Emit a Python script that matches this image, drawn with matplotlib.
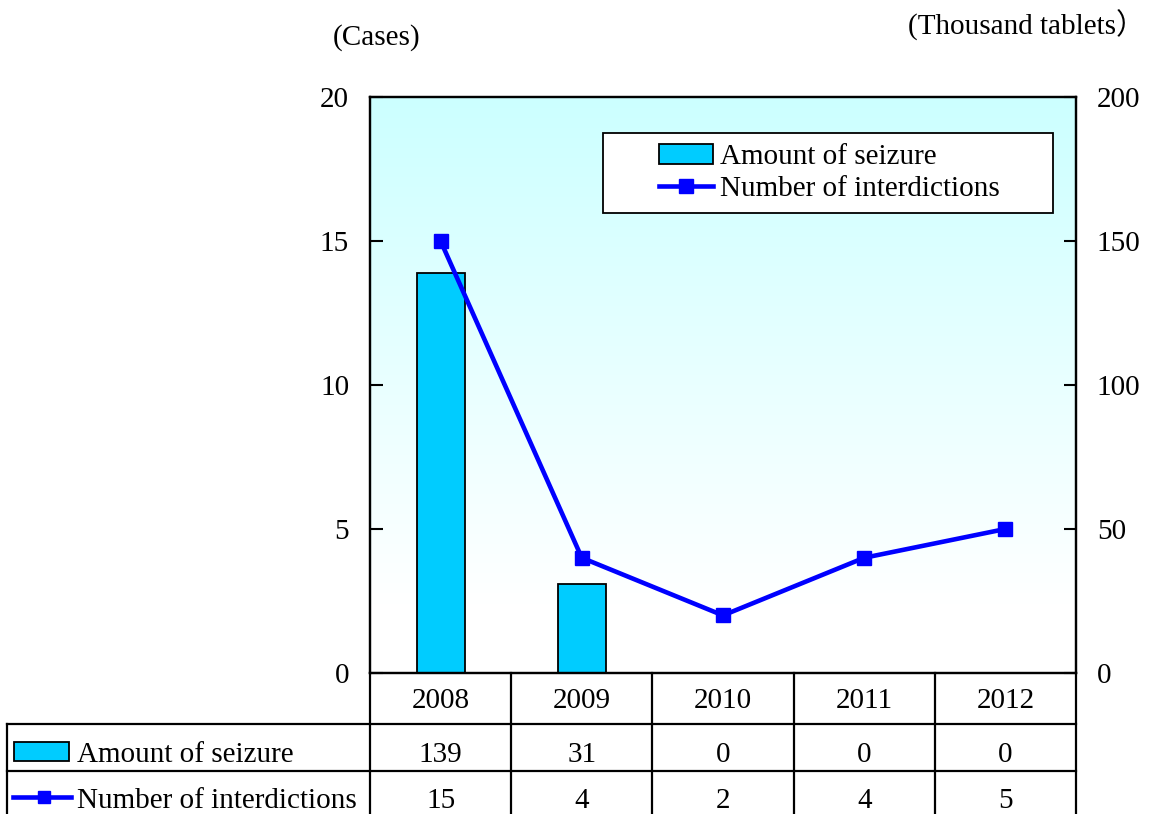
import numpy as np
import matplotlib
matplotlib.use("Agg")
import matplotlib.pyplot as plt
from matplotlib.patches import Rectangle
from matplotlib.lines import Line2D
import matplotlib.transforms as mtransforms

# ---- data ----
years = ["2008", "2009", "2010", "2011", "2012"]
seizure = [139, 31, 0, 0, 0]          # thousand tablets (right axis)
interdictions = [15, 4, 2, 4, 5]      # cases (left axis)
left_ticks = [0, 5, 10, 15, 20]
right_ticks = [0, 50, 100, 150, 200]
seizure_label = "Amount of seizure"
inter_label = "Number of interdictions"

plt.rcParams['font.family'] = ['Liberation Serif', 'Noto Sans CJK JP', 'DejaVu Sans']
FS = 21

W, H = 1150, 814
fig = plt.figure(figsize=(W / 100, H / 100), dpi=100)

def fx(px):
    return px / W

def fy(py):
    return 1 - py / H

L, R, T, B = 370, 1076, 97, 673
ax2 = fig.add_axes([fx(L), fy(B), fx(R) - fx(L), fy(T) - fy(B)])
ax1 = ax2.twinx()
ax1.yaxis.tick_left()
ax1.yaxis.set_label_position("left")
ax2.yaxis.tick_right()
ax2.yaxis.set_label_position("right")
ax1.set_zorder(2)
ax1.patch.set_visible(False)

x = np.arange(len(years))

# background gradient
grad = np.linspace(0, 1, 256).reshape(-1, 1)
top = np.array([204, 255, 255]) / 255.0
white = np.array([1.0, 1.0, 1.0])
t = np.clip((grad - 0.12) / 0.88, 0, 1)
img = white * (1 - t) + top * t
img = img.reshape(256, 1, 3)
ax2.imshow(img, extent=[0, 1, 0, 1], transform=ax2.transAxes, origin='lower',
           aspect='auto', zorder=0, interpolation='bilinear')

bars = ax2.bar(x, seizure, width=0.34, color='#00CCFF', edgecolor='black',
               linewidth=1.3, zorder=2, label=seizure_label)
line, = ax1.plot(x, interdictions, color='#0000FF', lw=3.3, marker='s',
                 markersize=10.5, zorder=3, label=inter_label)

ax1.set_xlim(-0.5, len(years) - 0.5)
ax2.set_xlim(-0.5, len(years) - 0.5)
ax1.set_ylim(0, 20)
ax2.set_ylim(0, 200)
ax1.set_yticks(left_ticks)
ax2.set_yticks(right_ticks)
ax1.set_xticks([])
ax2.set_xticks([])
ax1.tick_params(axis='y', direction='in', length=9, width=1.5, pad=15, labelsize=FS)
ax2.tick_params(axis='y', direction='in', length=9, width=1.5, pad=15, labelsize=FS)
for a in (ax1, ax2):
    for s in a.spines.values():
        s.set_linewidth(1.6)
        s.set_color('black')

# axis unit labels
fig.text(fx(377), fy(38), "(Cases)", ha='center', va='center', fontsize=FS)
fig.text(fx(1027), fy(25), "(Thousand tablets）", ha='center', va='center', fontsize=FS)

# legend frame and legend
ax1.add_patch(Rectangle((0.33, 0.799), 0.9674 - 0.33, 0.9375 - 0.799,
                        transform=ax1.transAxes, facecolor='white',
                        edgecolor='black', linewidth=1.3, zorder=4))
leg = ax1.legend(handles=[bars, line], loc='center left',
                 bbox_to_anchor=(0.4093, (0.9375 + 0.799) / 2),
                 frameon=False, fontsize=FS, borderpad=0, borderaxespad=0,
                 handlelength=1.85, handletextpad=0.25, labelspacing=0.2,
                 handleheight=0.7)
leg.set_zorder(5)

# ---- table below ----
blend = mtransforms.blended_transform_factory(ax1.transData, fig.transFigure)
lw = 1.6
y_hdr_top, y_r1, y_r2, y_bot = fy(673), fy(724), fy(771), fy(814)
for yy, x0 in [(y_r1, fx(7)), (y_r2, fx(7))]:
    fig.add_artist(Line2D([x0, fx(R)], [yy, yy], color='black', lw=lw))
fig.add_artist(Line2D([fx(7), fx(7)], [y_r1, y_bot], color='black', lw=lw))
fig.add_artist(Line2D([fx(L), fx(L)], [y_hdr_top, y_bot], color='black', lw=lw))
for b in np.arange(0.5, len(years) - 0.5 + 0.01, 1.0):
    fig.add_artist(Line2D([b, b], [y_hdr_top, y_bot], color='black', lw=lw,
                          transform=blend))

yb_hdr = fy(708)
yb_r1 = fy(762)
yb_r2 = fy(808)
for i, yr in enumerate(years):
    fig.text(x[i], yb_hdr, yr, transform=blend, ha='center', va='baseline', fontsize=FS)
    fig.text(x[i], yb_r1, str(seizure[i]), transform=blend, ha='center', va='baseline', fontsize=FS)
    fig.text(x[i], yb_r2, str(interdictions[i]), transform=blend, ha='center', va='baseline', fontsize=FS)

# row headers with key symbols
fig.add_artist(Rectangle((fx(14), fy(761)), fx(69) - fx(14), fy(742) - fy(761),
                         transform=fig.transFigure, facecolor='#00CCFF',
                         edgecolor='black', linewidth=1.3))
fig.add_artist(Line2D([fx(13), fx(71)], [fy(797), fy(797)], color='#0000FF', lw=3.3,
                      transform=fig.transFigure))
fig.add_artist(Line2D([fx(44)], [fy(797)], color='#0000FF', marker='s', markersize=9,
                      transform=fig.transFigure))
fig.text(fx(77), yb_r1, seizure_label, ha='left', va='baseline', fontsize=FS)
fig.text(fx(77), yb_r2, inter_label, ha='left', va='baseline', fontsize=FS)

fig.savefig("out.png", dpi=100)
